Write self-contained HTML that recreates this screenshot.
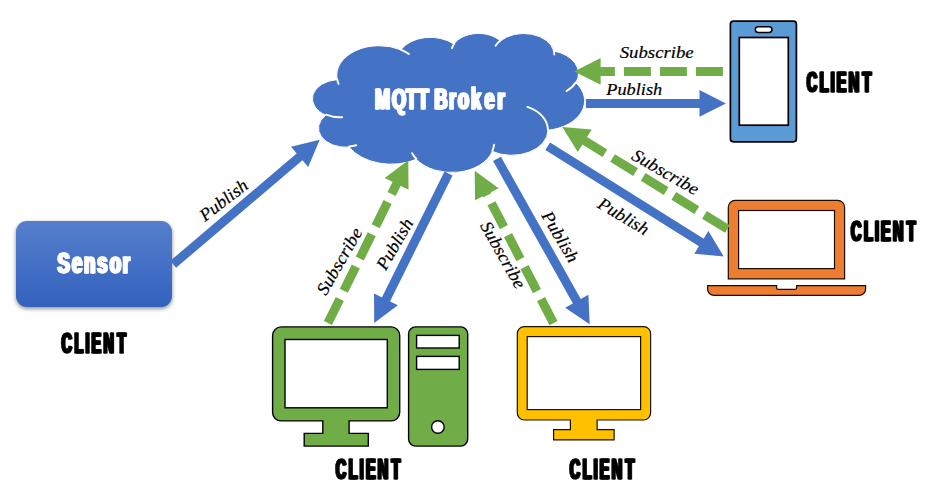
<!DOCTYPE html><html><head><meta charset="utf-8"><title>MQTT Broker</title>
<style>html,body{margin:0;padding:0;background:#fff}svg{display:block}</style></head><body>
<svg width="930" height="497" viewBox="0 0 930 497">
<defs><linearGradient id="sg" x1="0" y1="0" x2="0" y2="1"><stop offset="0" stop-color="#557fcd"/><stop offset="1" stop-color="#3362be"/></linearGradient><filter id="bd" x="-5%" y="-20%" width="110%" height="140%"><feOffset in="SourceGraphic" dx="-1" dy="0" result="a"/><feOffset in="SourceGraphic" dx="1" dy="0" result="b"/><feMerge><feMergeNode in="a"/><feMergeNode in="b"/><feMergeNode in="SourceGraphic"/></feMerge></filter><filter id="sh" x="-10%" y="-10%" width="120%" height="130%"><feGaussianBlur stdDeviation="1.9"/></filter></defs>
<rect width="930" height="497" fill="#fff"/>
<path d="M337.15 79.24 A42.50 29.57 0 0 1 400.75 49.74 A33.57 23.38 0 0 1 453.94 44.04 A27.47 19.13 0 0 1 500.37 40.98 A30.57 21.22 0 0 1 553.77 50.94 A33.57 23.40 0 0 1 575.80 82.74 A42.64 29.67 0 0 1 548.02 130.18 A36.41 25.31 0 0 1 492.33 151.45 A42.50 29.65 0 0 1 416.33 159.34 A48.59 33.92 0 0 1 349.14 147.13 A27.44 19.04 0 0 1 325.90 115.20 A27.35 19.13 0 0 1 336.92 79.67 Z" fill="#4472c4" stroke="#fff" stroke-width="1"/>
<path d="M342.14 117.23 A27.35 19.13 0 0 1 326.19 114.66 M356.20 145.29 A27.44 19.04 0 0 1 349.23 146.52 M416.31 158.78 A42.50 29.65 0 0 1 412.11 153.18 M494.04 144.81 A42.50 29.65 0 0 1 492.36 150.96 M527.41 106.86 A36.41 25.31 0 0 1 547.87 129.82 M575.68 82.40 A33.57 23.40 0 0 1 566.56 91.01 M553.81 50.46 A30.57 21.22 0 0 1 554.29 54.52 M495.62 45.72 A30.57 21.22 0 0 1 500.28 40.53 M451.96 48.19 A27.47 19.13 0 0 1 454.22 43.72 M400.72 49.71 A42.50 29.57 0 0 1 408.90 54.04 M338.58 83.80 A42.50 29.57 0 0 1 337.15 79.24 " fill="none" stroke="#fff" stroke-width="1.9" stroke-linecap="round"/>
<rect x="16.00" y="222.80" width="156.00" height="86.00" rx="11.00" fill="#000" opacity="0.45" filter="url(#sh)"/>
<rect x="16.00" y="221.00" width="156.00" height="86.00" rx="11.00" fill="url(#sg)"/>
<g stroke="#000" stroke-width="1.7"><rect x="730.40" y="21.20" width="66.00" height="120.60" rx="3.00" fill="#5b9bd5"/><rect x="739.30" y="37.50" width="49.00" height="87.70" fill="#fff"/><rect x="755.3" y="26.7" width="16.7" height="5.8" rx="2.9" fill="#fff" stroke-width="1.5"/></g>
<g stroke="#1a0d00" stroke-width="1.2" fill="#ed7d31"><path d="M728.30 278.80 V207.30 a7.00 7.00 0 0 1 7.00 -7.00 H837.60 a7.00 7.00 0 0 1 7.00 7.00 V278.80 Z"/><rect x="738.60" y="210.50" width="95.90" height="58.10" fill="#fff"/><path d="M707.60 285.70 H776.60 V287.70 a1.60 1.60 0 0 0 1.60 1.60 H795.00 a1.60 1.60 0 0 0 1.60 -1.60 V285.70 H865.60 V288.90 a6.50 6.50 0 0 1 -6.50 6.50 H714.10 a6.50 6.50 0 0 1 -6.50 -6.50 Z"/></g>
<g stroke="#000" stroke-width="1.4" fill="#70ad47"><path d="M281.10 326.90 H391.20 a8.50 8.50 0 0 1 8.50 8.50 V412.40 a8.50 8.50 0 0 1 -8.50 8.50 H349.10 V433.40 H368.30 V446.10 H304.20 V433.40 H322.80 V420.90 H281.10 a8.50 8.50 0 0 1 -8.50 -8.50 V335.40 a8.50 8.50 0 0 1 8.50 -8.50 Z"/><rect x="285.00" y="339.50" width="102.30" height="68.30" fill="#fff"/><rect x="408.60" y="326.90" width="59.10" height="119.20" rx="7.00"/><rect x="416.60" y="335.40" width="42.60" height="12.60" fill="#fff"/><rect x="416.60" y="356.40" width="42.60" height="13.00" fill="#fff"/><circle cx="437.9" cy="427" r="6.3" fill="#fff"/></g>
<g stroke="#1a1200" stroke-width="1.2" fill="#ffc000"><path d="M524.30 326.60 H643.60 a7.00 7.00 0 0 1 7.00 7.00 V413.00 a7.00 7.00 0 0 1 -7.00 7.00 H597.10 V429.70 H614.10 V439.90 H553.60 V429.70 H570.40 V420.00 H524.30 a7.00 7.00 0 0 1 -7.00 -7.00 V333.60 a7.00 7.00 0 0 1 7.00 -7.00 Z"/><rect x="527.20" y="336.60" width="113.40" height="73.00" fill="#fff"/></g>
<line x1="173.20" y1="264.30" x2="300.73" y2="155.92" stroke="#4472c4" stroke-width="9.00"/><polygon points="319.70,139.80 308.20,167.03 290.97,146.76" fill="#4472c4"/>
<line x1="327.90" y1="323.10" x2="397.28" y2="182.53" stroke="#70ad47" stroke-width="9.00" stroke-dasharray="27 9"/><polygon points="408.30,160.20 408.54,189.76 384.69,177.99" fill="#70ad47"/>
<line x1="448.50" y1="173.50" x2="385.28" y2="300.80" stroke="#4472c4" stroke-width="9.00"/><polygon points="374.20,323.10 374.03,293.54 397.85,305.37" fill="#4472c4"/>
<line x1="553.50" y1="323.10" x2="486.14" y2="192.92" stroke="#70ad47" stroke-width="9.00" stroke-dasharray="27 9"/><polygon points="474.70,170.80 498.64,188.14 475.02,200.36" fill="#70ad47"/>
<line x1="497.00" y1="158.90" x2="577.52" y2="302.48" stroke="#4472c4" stroke-width="9.00"/><polygon points="589.70,324.20 565.19,307.68 588.39,294.67" fill="#4472c4"/>
<line x1="727.40" y1="229.00" x2="583.48" y2="140.00" stroke="#70ad47" stroke-width="9.00" stroke-dasharray="27 9"/><polygon points="562.30,126.90 591.75,129.47 577.76,152.10" fill="#70ad47"/>
<line x1="547.70" y1="146.20" x2="702.60" y2="243.19" stroke="#4472c4" stroke-width="9.00"/><polygon points="723.70,256.40 694.27,253.66 708.38,231.12" fill="#4472c4"/>
<line x1="722.90" y1="71.40" x2="599.10" y2="71.40" stroke="#70ad47" stroke-width="9.00" stroke-dasharray="27 9"/><polygon points="574.10,71.40 600.60,58.10 600.60,84.70" fill="#70ad47"/>
<line x1="585.90" y1="103.40" x2="701.00" y2="103.40" stroke="#4472c4" stroke-width="9.00"/><polygon points="725.90,103.40 699.50,116.70 699.50,90.10" fill="#4472c4"/>
<g filter="url(#bd)"><text transform="translate(373.70 108.50) scale(0.6093 1.0000)" x="2.03 30.19 53.16 72.36 85.99 99.61 123.64 138.34 159.77 181.75 202.99" y="0" font-family="'Liberation Sans', sans-serif" font-weight="bold" font-size="29.60" fill="#fff" stroke="#fff" stroke-width="0.90" stroke-linejoin="miter">MQTT Broker</text></g>
<g filter="url(#bd)"><text transform="translate(57.00 273.40) scale(0.6381 1.0000)" x="0.74 23.52 42.49 63.17 82.51 103.24" y="0" font-family="'Liberation Sans', sans-serif" font-weight="bold" font-size="29.00" fill="#fff" stroke="#fff" stroke-width="0.90" stroke-linejoin="miter">Sensor</text></g>
<g filter="url(#bd)"><text transform="translate(60.20 352.70) scale(0.4816 1.0000)" x="2.50 29.78 52.43 65.20 89.92 118.36" y="0" font-family="'Liberation Sans', sans-serif" font-weight="bold" font-size="29.90" fill="#000" stroke="#000" stroke-width="0.90" stroke-linejoin="miter">CLIENT</text></g>
<g filter="url(#bd)"><text transform="translate(805.45 91.70) scale(0.4816 1.0000)" x="2.50 29.78 52.43 65.20 89.92 118.36" y="0" font-family="'Liberation Sans', sans-serif" font-weight="bold" font-size="29.90" fill="#000" stroke="#000" stroke-width="0.90" stroke-linejoin="miter">CLIENT</text></g>
<g filter="url(#bd)"><text transform="translate(849.70 240.80) scale(0.4816 1.0000)" x="2.50 29.78 52.43 65.20 89.92 118.36" y="0" font-family="'Liberation Sans', sans-serif" font-weight="bold" font-size="29.90" fill="#000" stroke="#000" stroke-width="0.90" stroke-linejoin="miter">CLIENT</text></g>
<g filter="url(#bd)"><text transform="translate(334.50 478.70) scale(0.4816 1.0000)" x="2.50 29.78 52.43 65.20 89.92 118.36" y="0" font-family="'Liberation Sans', sans-serif" font-weight="bold" font-size="29.90" fill="#000" stroke="#000" stroke-width="0.90" stroke-linejoin="miter">CLIENT</text></g>
<g filter="url(#bd)"><text transform="translate(568.45 478.70) scale(0.4816 1.0000)" x="2.50 29.78 52.43 65.20 89.92 118.36" y="0" font-family="'Liberation Sans', sans-serif" font-weight="bold" font-size="29.90" fill="#000" stroke="#000" stroke-width="0.90" stroke-linejoin="miter">CLIENT</text></g>
<text transform="translate(224.70 201.70) rotate(-37.70)" y="4" text-anchor="middle" font-family="'Liberation Serif', serif" font-style="italic" font-size="17.70" textLength="56.00" lengthAdjust="spacingAndGlyphs" fill="#000" stroke="#000" stroke-width="0.2">Publish</text>
<text transform="translate(341.00 262.10) rotate(-60.00)" y="4" text-anchor="middle" font-family="'Liberation Serif', serif" font-style="italic" font-size="17.70" textLength="74.00" lengthAdjust="spacingAndGlyphs" fill="#000" stroke="#000" stroke-width="0.2">Subscribe</text>
<text transform="translate(396.30 245.10) rotate(-60.00)" y="4" text-anchor="middle" font-family="'Liberation Serif', serif" font-style="italic" font-size="17.70" textLength="56.00" lengthAdjust="spacingAndGlyphs" fill="#000" stroke="#000" stroke-width="0.2">Publish</text>
<text transform="translate(501.40 255.80) rotate(60.50)" y="4" text-anchor="middle" font-family="'Liberation Serif', serif" font-style="italic" font-size="17.70" textLength="74.00" lengthAdjust="spacingAndGlyphs" fill="#000" stroke="#000" stroke-width="0.2">Subscribe</text>
<text transform="translate(558.70 237.70) rotate(59.50)" y="4" text-anchor="middle" font-family="'Liberation Serif', serif" font-style="italic" font-size="17.70" textLength="56.00" lengthAdjust="spacingAndGlyphs" fill="#000" stroke="#000" stroke-width="0.2">Publish</text>
<text transform="translate(664.60 173.70) rotate(30.00)" y="4" text-anchor="middle" font-family="'Liberation Serif', serif" font-style="italic" font-size="17.70" textLength="74.00" lengthAdjust="spacingAndGlyphs" fill="#000" stroke="#000" stroke-width="0.2">Subscribe</text>
<text transform="translate(622.60 217.90) rotate(31.00)" y="4" text-anchor="middle" font-family="'Liberation Serif', serif" font-style="italic" font-size="17.70" textLength="56.00" lengthAdjust="spacingAndGlyphs" fill="#000" stroke="#000" stroke-width="0.2">Publish</text>
<text transform="translate(656.70 53.60) rotate(0.00)" y="4" text-anchor="middle" font-family="'Liberation Serif', serif" font-style="italic" font-size="17.70" textLength="74.00" lengthAdjust="spacingAndGlyphs" fill="#000" stroke="#000" stroke-width="0.2">Subscribe</text>
<text transform="translate(634.20 90.80) rotate(0.00)" y="4" text-anchor="middle" font-family="'Liberation Serif', serif" font-style="italic" font-size="17.70" textLength="56.00" lengthAdjust="spacingAndGlyphs" fill="#000" stroke="#000" stroke-width="0.2">Publish</text>
</svg></body></html>
